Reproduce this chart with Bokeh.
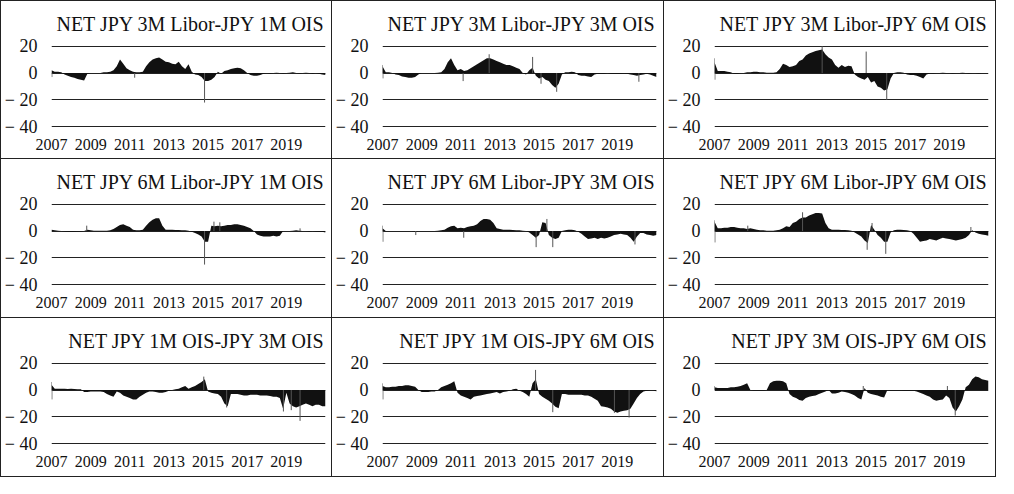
from bokeh.plotting import figure
from bokeh.layouts import gridplot
from bokeh.models import FixedTicker, Range1d
from bokeh.embed import file_html
from bokeh.resources import INLINE

titles = [
    "NET JPY 3M Libor-JPY 1M OIS", "NET JPY 3M Libor-JPY 3M OIS", "NET JPY 3M Libor-JPY 6M OIS",
    "NET JPY 6M Libor-JPY 1M OIS", "NET JPY 6M Libor-JPY 3M OIS", "NET JPY 6M Libor-JPY 6M OIS",
    "NET JPY 1M OIS-JPY 3M OIS", "NET JPY 1M OIS-JPY 6M OIS", "NET JPY 3M OIS-JPY 6M OIS",
]

# bimonthly sample dates (decimal years), 2007.0 .. 2021.0
years = [2007 + i / 6 for i in range(85)]

x_ticks = [2007, 2009, 2011, 2013, 2015, 2017, 2019]
y_ticks = [-40, -20, 0, 20]
y_labels = {-40: "\u2212 40", -20: "\u2212 20", 0: "0", 20: "20"}

# one row per year (6 bimonthly values), last value = 2021.0
s1 = [2, 1, 1, 0.5, -1, -2,
      -3, -3.5, -4.5, -5, -5.5, -0.5,
      0, 0, 0, 0, 0.5, 0.5,
      1, 2, 5, 10, 7, 3.5,
      2, 1, 0.5, 0.5, 1, 5,
      8, 10, 11, 11.5, 10, 8.5,
      8, 7, 6.5, 8.5, 5, 3,
      6.5, 1, -1, -1.5, -3, -6,
      -6, -5, -3, 1, -0.5, 1.5,
      2, 3, 3.5, 4, 3.5, 2,
      0, -1.5, -2, -2, -1.5, -0.5,
      0, -0.3, 0, 0.3, 0, -0.3,
      0, 0.2, 0.5, 0, -0.3, 0,
      0.3, 0, -0.5, 0, -0.5, -1,
      -1.5]
s2 = [5, 0.5, 0.5, 0, -1, -1.5,
      -2.5, -3, -3.5, -3.5, -3, -1,
      0, 0, 0, 0, 0, 0.3,
      0.5, 3, 8, 11, 6, 2,
      3, 1.5, 2, 3.5, 5, 6.5,
      8, 9.5, 11, 11, 10, 9,
      8, 7, 6, 6, 5, 4,
      3, 0, -1, 2, 4, -2,
      -4, -3, -5, -6, -9, -11,
      -8, -1, 0.5, 0.5, 1, 0.5,
      -1.5, -2, -2, -2.5, -3, -1,
      -0.5, -0.5, -0.5, 0, -0.5, -0.5,
      -0.5, -0.5, -0.3, -0.5, -1, -1.5,
      -2, -1.5, -1, -0.5, -1, -2,
      -3]
s3 = [8, 1.5, 1.5, 1.5, 1, 0.5,
      -0.5, -0.5, 0, 0, 0.5, 0.5,
      1, 1, 0.5, 0.5, 0.3, 0.3,
      0.3, 0.5, 3, 7, 6, 4.5,
      5, 6, 9, 10, 13, 14.5,
      15.5, 16.5, 17, 17.5, 14, 11.5,
      10, 6, 4, 6, 4.5, 5.5,
      5, -1, -3, -4, -5, -3,
      -7, -6, -10, -11, -13, -12,
      -4, 0, 0.5, 0.5, 0.3, -1,
      -1.5, -1.5, -2, -3, -4, -1,
      -0.3, -0.3, 0, 0, 0.3, 0,
      0, -0.3, 0, 0, 0.3, 0,
      -0.3, 0, 0, -0.3, 0, 0,
      0]
s4 = [1, 0.5, 0.3, 0, -0.3, -0.5,
      -0.5, -0.5, -0.3, -0.3, 0, 1,
      0.5, 0.3, 0.3, 0.3, 0.3, 0.3,
      0.5, 1.5, 3, 4.5, 5, 4,
      3, 1, 0.5, 0.5, 1, 4,
      6.5, 8.5, 9.5, 9.5, 4, 1,
      1, 1, 0.8, 0.8, 0.5, 0.5,
      0.3, -0.5, -1.5, -2.5, -4, -8,
      -8, 4, 3.5, 4, 3.5, 4,
      4.5, 4.5, 5, 5, 4.5, 4,
      3, 2, 0, -2.5, -3.5, -4,
      -4, -4, -3.5, -4, -3.5, 0,
      0, 0, 0.3, 0.5, 0.3, 0,
      0, -0.3, 0, -0.3, -0.5, -0.5,
      -1]
s5 = [2, 0, 0, 0, 0, 0,
      0, 0, 0, 0, -0.3, 0,
      0, 0, 0, 0, 0, 0.3,
      0.5, 1, 2.5, 3.5, 4, 2,
      2.5, 2, 3, 3.5, 4, 5,
      7.5, 9, 9, 8.5, 6, 2,
      1.5, 1, 1, 1, 0.8, 0.5,
      0.5, 0.3, 0, -1, -3, -5,
      -3, 6.5, 6, -3, -5, -6,
      -5, 0, 0.5, 1, 1, 0.5,
      -0.5, -2, -4, -6, -5.5, -5,
      -6, -5, -5.5, -5, -4, -3,
      -2.5, -2, -2.5, -3, -5, -8,
      -4, -1.5, -1.5, -2.5, -3, -3.5,
      -3]
s6 = [7, 2, 2, 2.5, 2.5, 3,
      3, 2.5, 2, 2, 1.5, 2,
      1.5, 1, 0.5, 0.5, 0.3, 0.3,
      0.3, 0.5, 1, 2, 3.5, 3,
      6, 7, 9, 10, 10, 11.5,
      12.5, 13.5, 13.5, 13, 6, 2,
      1, 1, 1, 0.8, 0.8, 0.5,
      0.3, -1, -2.5, -4, -7, -9,
      4.5, 1, -3, -5, -8, -8,
      -1, 0.5, 1, 1, 0.8, 0.5,
      0, -2, -5, -8, -7.5, -7,
      -6, -6.5, -7, -6, -5, -5.5,
      -6, -6.5, -7, -6.5, -6, -5,
      -3, 0.5, -1, -2, -2.5, -3,
      -3.5]
s7 = [4, 1, 1, 1, 1, 0.8,
      1, 0.8, 0.5, 0.5, -1.5, -1.5,
      -1, -1, -1, -1, -1.5, -3,
      -4, -5, -1, -2, -4, -5,
      -6, -7, -7, -5, -3.5, -2,
      -1, -1, -1.5, -2, -2, -1.5,
      -0.5, 0, 0.5, 1, 2, 3,
      1, 2, 3, 4.5, 6, 8,
      -1, -2, -2.5, -3, -5, -10,
      -12, -3, -3, -3, -3.5, -4,
      -4, -3.5, -3.5, -3.5, -4, -4,
      -4, -4.5, -5, -5, -6, -14,
      -2, -10, -12, -13, -12, -11,
      -10, -11, -12, -11, -11, -12,
      -12]
s8 = [3, 2, 2, 2.5, 2.5, 3,
      3, 3.5, 3.5, 3, 2.5, 0,
      -1.5, -1.5, -1.5, -1, -1, 0,
      2, 3, 4, 5, 6.5, -2,
      -4, -5, -6, -7, -5, -4.5,
      -4, -3.5, -3, -2.5, -2, -1.5,
      -2.5, -1.5, -1, -0.5, 0.5, 1,
      -0.5, -1.5, -3, -5, 5, 8,
      -3, -5, -6.5, -8, -10, -12.5,
      -13.5, -3, -3, -3.5, -3.5, -3.5,
      -3.5, -3.5, -4, -4, -5, -6.5,
      -8, -12, -12.5, -13, -14, -16,
      -17, -16, -15.5, -15, -14, -10,
      -6, -3, -1, -0.5, 0, 0,
      -1]
s9 = [2, 1.5, 1.5, 1.5, 1.5, 2,
      2, 2.5, 3, 4, 5, 0,
      -0.3, -0.3, -0.3, -0.3, 0, 5,
      6.5, 7, 7, 6.5, 5, -3,
      -5, -6, -7.5, -8, -6, -5,
      -4.5, -4, -3, -2, -1, 0,
      -2.5, -2.5, -2, -1, -1.5, -2,
      -3, -4, -6, -7, 1.5, -2,
      -3, -3.5, -4, -5, -5.5, 0,
      -0.3, -0.3, -0.3, -0.3, -0.5, -0.5,
      -0.5, -0.5, -1, -2, -3, -4,
      -5, -7, -8, -7.5, -7, -4,
      -6, -13, -16, -12, -7, 2,
      4, 8, 10, 9.5, 8, 7.5,
      7]
series = [s1, s2, s3, s4, s5, s6, s7, s8, s9]

# single-day spikes (date, value)
spike_x = [
    [2007.02, 2011.25, 2014.82],
    [2007.0, 2007.02, 2011.12, 2012.45, 2014.67, 2015.1, 2015.9, 2020.1],
    [2007.0, 2007.02, 2012.5, 2014.75, 2015.8],
    [2008.8, 2014.82, 2015.3, 2015.6, 2019.7],
    [2007.0, 2007.02, 2008.7, 2011.15, 2014.85, 2015.4, 2015.7, 2019.9],
    [2007.0, 2007.02, 2008.7, 2011.5, 2014.8, 2015.05, 2015.75, 2020.1],
    [2007.0, 2007.02, 2014.78, 2015.95, 2018.85, 2019.25, 2019.7],
    [2007.0, 2007.02, 2014.82, 2015.7, 2018.85, 2019.6],
    [2007.0, 2014.6, 2018.9, 2019.3],
]
spike_y = [
    [-3, -3.5, -22],
    [6, -4, -6, 14, 12, -8, -14, -6.5],
    [11, -5, 20, 16, -20],
    [4, -25, 7, 6.5, 2],
    [4, -8, -3, -5, -12, 9, -12, -10],
    [8, -8.5, 4, 14, -14, 6, -17, 3],
    [6, -7, 10, -13, -16, -15, -23],
    [5, -7, 15, -16.5, -17, -20.5],
    [3, 3, 3, -19],
]

FONT = "serif"
LINE = "1.5px solid #222"


def panel(k):
    row, col = divmod(k, 3)
    p = figure(width=332, height=159, output_backend="svg", toolbar_location=None,
               x_range=Range1d(2007, 2021), y_range=Range1d(-40.6, 25),
               min_border_left=45, min_border_right=8, min_border_top=38,
               min_border_bottom=33, title=titles[k])
    p.title.text_font = FONT
    p.title.text_font_size = "20px"
    p.title.text_font_style = "normal"
    p.title.text_color = "#111"
    p.title.align = "right"
    p.outline_line_color = None
    p.xgrid.grid_line_color = None
    p.ygrid.ticker = FixedTicker(ticks=y_ticks)
    p.ygrid.grid_line_color = "#222"
    p.ygrid.grid_line_width = 1.2
    for ax in (p.xaxis[0], p.yaxis[0]):
        ax.axis_line_color = None
        ax.major_tick_line_color = None
        ax.minor_tick_line_color = None
        ax.major_label_text_font = FONT
        ax.major_label_text_color = "#111"
        ax.major_label_standoff = 8
    p.yaxis.ticker = FixedTicker(ticks=y_ticks)
    p.yaxis.major_label_overrides = y_labels
    p.yaxis.major_label_text_font_size = "18px"
    p.xaxis.ticker = FixedTicker(ticks=x_ticks)
    p.xaxis.major_label_text_font_size = "16px"
    p.xaxis.major_label_standoff = 5
    p.varea(x=years, y1=[0] * len(years), y2=series[k], fill_color="#111")
    p.segment(x0=spike_x[k], y0=[0] * len(spike_x[k]), x1=spike_x[k], y1=spike_y[k],
              line_color="#555", line_width=1)
    st = {"box-sizing": "border-box", "border-right": LINE, "border-bottom": LINE}
    if col == 0:
        st["border-left"] = LINE
    if row == 0:
        st["border-top"] = LINE
    p.styles = st
    return p


plots = [panel(k) for k in range(9)]
grid = gridplot(plots, ncols=3, toolbar_location=None)

open("out.html", "w").write(file_html(grid, INLINE))
